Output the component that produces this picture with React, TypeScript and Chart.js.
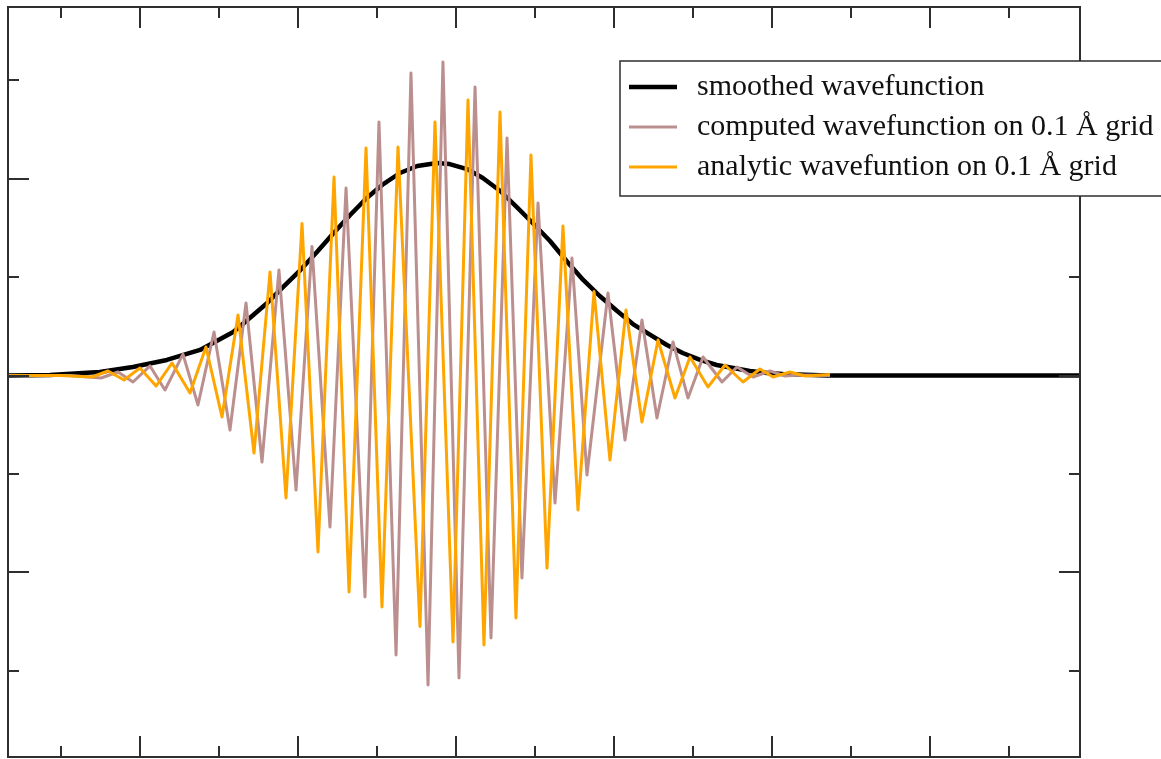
import React, { useEffect, useRef } from "react";
import { Chart, registerables } from "chart.js";

Chart.register(...registerables);

// Axis ranges and tick values (x in Å, y in arbitrary units)
const xRange = [-5.671, 7.899];
const yRange = [-3.877, 3.745];
const xTicks = [-5, -4, -3, -2, -1, 0, 1, 2, 3, 4, 5, 6, 7];
const yTicks = [-3, -2, -1, 0, 1, 2, 3];

const legendLabels = [
  "smoothed wavefunction",
  "computed wavefunction on 0.1 Å grid",
  "analytic wavefuntion on 0.1 Å grid",
];

// smoothed wavefunction
const smoothX = [
  -5.671, -5.14, -4.51, -4.09, -3.66, -3.24, -2.82, -2.61, -2.39, -2.19, -1.97, -1.76, -1.56,
  -1.34, -1.13, -0.92, -0.71, -0.49, -0.24, -0.08, 0.14, 0.34, 0.56, 0.77, 0.97, 1.19, 1.41,
  1.61, 1.82, 2.04, 2.24, 2.46, 2.67, 2.87, 3.09, 3.3, 3.51, 3.72, 3.94, 4.14, 4.7, 7.899,
];
const smoothY = [
  0, 0.005, 0.036, 0.086, 0.158, 0.26, 0.442, 0.584, 0.737, 0.899, 1.072, 1.255, 1.438,
  1.631, 1.804, 1.946, 2.058, 2.129, 2.159, 2.149, 2.098, 2.007, 1.875, 1.712, 1.55, 1.367, 1.153,
  0.971, 0.808, 0.655, 0.523, 0.412, 0.31, 0.229, 0.158, 0.107, 0.076, 0.046, 0.025, 0.015, 0, 0,
];

// computed wavefunction on 0.1 Å grid
const computedX = [
  -5.671, -4.886, -4.494, -4.278, -4.089, -3.873, -3.684, -3.456, -3.266, -3.063, -2.861, -2.658,
  -2.456, -2.241, -2.025, -1.823, -1.595, -1.392, -1.152, -0.975, -0.759, -0.57, -0.354, -0.165,
  0.038, 0.241, 0.443, 0.646, 0.835, 1.038, 1.253, 1.468, 1.658, 1.924, 2.139, 2.354, 2.544,
  2.747, 2.937, 3.127, 3.367, 3.557, 3.759, 3.975, 4.165, 4.354, 4.734,
];
const computedY = [
  0, 0, -0.025, 0.036, -0.066, 0.097, -0.147, 0.218, -0.3, 0.442, -0.554, 0.737,
  -0.879, 1.072, -1.164, 1.311, -1.54, 1.905, -2.251, 2.576, -2.84, 3.074, -3.145, 3.186,
  -3.074, 2.932, -2.668, 2.414, -2.058, 1.753, -1.296, 1.194, -1.011, 0.838, -0.655, 0.564, -0.432,
  0.341, -0.229, 0.188, -0.066, 0.086, -0.015, 0.046, -0.005, 0.005, 0,
];

// analytic wavefunction on 0.1 Å grid
const analyticX = [
  -5.671, -5.013, -4.608, -4.405, -4.203, -4.0, -3.797, -3.595, -3.367, -3.165, -2.962, -2.759,
  -2.557, -2.354, -2.152, -1.949, -1.747, -1.544, -1.354, -1.139, -0.937, -0.734, -0.456, -0.266,
  -0.038, 0.152, 0.354, 0.557, 0.759, 0.949, 1.152, 1.354, 1.544, 1.747, 1.949, 2.152, 2.354,
  2.557, 2.772, 2.962, 3.19, 3.405, 3.633, 3.848, 4.013, 4.228, 4.418, 4.734,
];
const analyticY = [
  0, 0, -0.015, 0.046, -0.046, 0.076, -0.107, 0.127, -0.178, 0.29, -0.422, 0.615,
  -0.788, 1.052, -1.245, 1.545, -1.794, 2.017, -2.2, 2.312, -2.353, 2.322, -2.55, 2.576,
  -2.709, 2.8, -2.739, 2.678, -2.465, 2.241, -1.957, 1.519, -1.367, 0.854, -0.859, 0.666, -0.473,
  0.361, -0.229, 0.188, -0.117, 0.107, -0.066, 0.066, -0.015, 0.036, -0.005, 0.01,
];

const seriesColors = ["#000000", "rgb(188,143,143)", "rgb(255,165,0)"];
const seriesWidths = [4.5, 3, 3];

const toPoints = (xs: number[], ys: number[]) => xs.map((x, i) => ({ x, y: ys[i] }));

const framePlugin = {
  id: "frameTicks",
  afterDatasetsDraw(chart: any) {
    const { ctx, chartArea } = chart;
    const { left, top, right, bottom } = chartArea;
    const xs = chart.scales.x;
    const ys = chart.scales.y;
    ctx.save();
    ctx.strokeStyle = "#2e2e2e";
    ctx.lineWidth = 2;
    ctx.strokeRect(left, top, right - left, bottom - top);
    ctx.beginPath();
    xTicks.forEach((v) => {
      const px = Math.round(xs.getPixelForValue(v));
      const len = v % 2 === 0 ? 21 : 11;
      ctx.moveTo(px, bottom);
      ctx.lineTo(px, bottom - len);
      ctx.moveTo(px, top);
      ctx.lineTo(px, top + len);
    });
    yTicks.forEach((v) => {
      const py = Math.round(ys.getPixelForValue(v));
      const len = v % 2 === 0 ? 21 : 11;
      ctx.moveTo(left, py);
      ctx.lineTo(left + len, py);
      ctx.moveTo(right, py);
      ctx.lineTo(right - len, py);
    });
    ctx.stroke();
    ctx.restore();
  },
};

const legendPlugin = {
  id: "boxLegend",
  afterDraw(chart: any) {
    const { ctx } = chart;
    const boxLeft = 620;
    const boxTop = 61;
    const boxBottom = 196;
    ctx.save();
    ctx.fillStyle = "#ffffff";
    ctx.fillRect(boxLeft, boxTop, chart.width - boxLeft + 10, boxBottom - boxTop);
    ctx.strokeStyle = "#2e2e2e";
    ctx.lineWidth = 1.5;
    ctx.strokeRect(boxLeft, boxTop, chart.width - boxLeft + 10, boxBottom - boxTop);
    ctx.font = '30px "Liberation Serif", "Times New Roman", serif';
    ctx.textBaseline = "alphabetic";
    legendLabels.forEach((label, i) => {
      const cy = 87 + i * 40;
      ctx.strokeStyle = seriesColors[i];
      ctx.lineWidth = seriesWidths[i];
      ctx.beginPath();
      ctx.moveTo(629, cy);
      ctx.lineTo(677, cy);
      ctx.stroke();
      ctx.fillStyle = "#111111";
      ctx.fillText(label, 697, cy + 8);
    });
    ctx.restore();
  },
};

export default function App() {
  const canvasRef = useRef<HTMLCanvasElement | null>(null);

  useEffect(() => {
    document.body.style.margin = "0";
    const canvas = canvasRef.current;
    if (!canvas) return;
    const chart = new Chart(canvas, {
      type: "line",
      data: {
        datasets: [
          {
            label: legendLabels[0],
            data: toPoints(smoothX, smoothY),
            borderColor: seriesColors[0],
            borderWidth: seriesWidths[0],
            order: 3,
          },
          {
            label: legendLabels[1],
            data: toPoints(computedX, computedY),
            borderColor: seriesColors[1],
            borderWidth: seriesWidths[1],
            order: 2,
          },
          {
            label: legendLabels[2],
            data: toPoints(analyticX, analyticY),
            borderColor: seriesColors[2],
            borderWidth: seriesWidths[2],
            order: 1,
          },
        ],
      },
      options: {
        animation: false,
        responsive: false,
        devicePixelRatio: 1,
        events: [],
        layout: { padding: { left: 8, top: 7, right: 81, bottom: 2 } },
        plugins: { legend: { display: false }, tooltip: { enabled: false }, title: { display: false } },
        elements: {
          point: { radius: 0 },
          line: { tension: 0, borderJoinStyle: "round", fill: false },
        },
        scales: {
          x: { type: "linear", min: xRange[0], max: xRange[1], display: false },
          y: { type: "linear", min: yRange[0], max: yRange[1], display: false },
        },
      },
      plugins: [framePlugin, legendPlugin],
    });
    return () => chart.destroy();
  }, []);

  return (
    <div style={{ width: 1161, height: 759, background: "#ffffff" }}>
      <canvas ref={canvasRef} width={1161} height={759} style={{ display: "block" }} />
    </div>
  );
}
